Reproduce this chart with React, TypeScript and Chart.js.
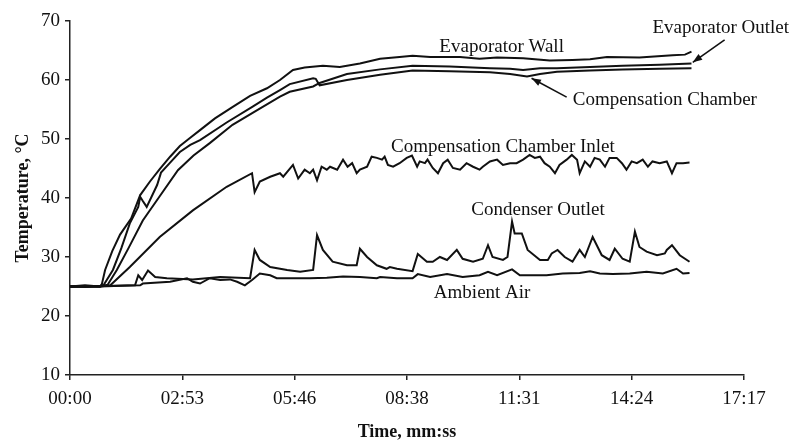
import React, { useEffect, useRef } from 'react';
import { Chart, registerables } from 'chart.js';

Chart.register(...registerables);

// ---- axes ----
const X_TICK_STEP = 172.8; // seconds (0.002 day)
const X_TICK_LABELS = ['00:00', '02:53', '05:46', '08:38', '11:31', '14:24', '17:17'];
const Y_MIN = 10;
const Y_MAX = 70;
const Y_STEP = 10;

// ---- series: [time (s), temperature (°C)] ----
const evaporatorWall: [number, number][] = [
  [0, 25.1], [23, 25.0], [46, 25.0], [49, 25.4], [54, 27.8], [65, 31.0], [77, 33.8], [94, 36.5],
  [108, 40.5], [123, 42.8], [138, 44.9], [154, 47.0], [169, 48.8], [185, 50.2], [200, 51.5],
  [223, 53.5], [251, 55.5], [277, 57.3], [303, 58.6], [323, 60.0], [343, 61.7], [361, 62.1],
  [389, 62.4], [415, 62.2], [446, 62.8], [477, 63.6], [507, 63.9], [527, 64.1], [554, 63.9],
  [600, 63.9], [630, 63.6], [657, 63.8], [697, 63.7], [738, 63.3], [773, 63.4], [800, 63.5],
  [826, 63.9], [876, 63.8], [927, 64.2], [946, 64.3], [956, 64.8],
];

const evaporatorOutlet: [number, number][] = [
  [0, 24.9], [23, 25.1], [46, 25.0], [58, 25.3], [72, 27.8], [90, 31.5], [112, 36.2], [138, 40.3],
  [166, 44.7], [190, 47.2], [215, 49.3], [250, 52.4], [288, 54.9], [323, 57.2], [338, 58.0],
  [374, 58.9], [384, 59.5], [426, 61.0], [477, 61.8], [527, 62.4], [584, 62.3], [646, 62.0],
  [677, 61.9], [697, 61.7], [723, 62.0], [749, 62.0], [800, 62.2], [850, 62.4], [907, 62.6],
  [956, 62.8],
];

const compensationChamber: [number, number][] = [
  [0, 25.0], [23, 24.9], [46, 25.0], [52, 25.3], [66, 27.8], [79, 31.5], [92, 35.7], [105, 38.5],
  [108, 40.2], [112, 39.5], [118, 38.5], [134, 42.2], [140, 44.3], [154, 46.0], [169, 47.8],
  [185, 49.0], [200, 49.8], [241, 52.8], [281, 55.5], [303, 57.0], [323, 58.3], [338, 59.3],
  [374, 60.3], [378, 60.2], [384, 59.1], [426, 60.0], [477, 60.9], [527, 61.6], [584, 61.5],
  [646, 61.3], [677, 61.0], [703, 60.6], [723, 61.0], [749, 61.4], [800, 61.6], [850, 61.8],
  [907, 61.9], [956, 62.0],
];

const compensationChamberInlet: [number, number][] = [
  [0, 25.0], [23, 25.1], [46, 25.0], [62, 25.2], [92, 28.3], [138, 33.4], [189, 37.9], [241, 41.9],
  [280, 44.2], [284, 41.0], [292, 42.8], [308, 43.6], [323, 44.2], [328, 43.6], [343, 45.6],
  [351, 43.3], [361, 44.8], [369, 44.2], [374, 44.8], [380, 43.0], [387, 45.3], [395, 44.8],
  [400, 45.3], [411, 44.8], [420, 46.5], [427, 45.3], [434, 45.9], [441, 44.2], [446, 44.8],
  [457, 45.3], [464, 47.0], [472, 46.8], [480, 46.5], [484, 47.0], [489, 45.6], [497, 45.3],
  [507, 45.9], [518, 46.8], [526, 47.2], [534, 45.3], [538, 46.2], [546, 45.9], [550, 46.5],
  [558, 45.1], [566, 44.2], [574, 45.9], [581, 46.5], [589, 45.1], [600, 44.8], [610, 45.9],
  [620, 45.3], [630, 44.8], [635, 45.3], [646, 46.2], [657, 46.5], [666, 45.6], [677, 45.9],
  [687, 45.9], [697, 46.5], [707, 47.3], [715, 46.8], [723, 47.0], [730, 45.9], [738, 45.3],
  [746, 44.2], [753, 45.6], [764, 46.5], [772, 47.3], [780, 46.5], [784, 44.2], [792, 46.2],
  [800, 45.3], [807, 46.8], [815, 46.5], [823, 45.3], [830, 46.8], [841, 46.8], [849, 45.9],
  [856, 44.8], [864, 46.2], [872, 45.9], [881, 46.5], [889, 45.3], [896, 46.2], [907, 45.9],
  [918, 46.2], [926, 44.2], [933, 45.9], [943, 45.9], [953, 46.0],
];

const condenserOutlet: [number, number][] = [
  [0, 25.0], [23, 25.2], [46, 25.0], [100, 25.2], [105, 26.9], [111, 26.1], [120, 27.7],
  [131, 26.6], [149, 26.4], [189, 26.2], [231, 26.6], [277, 26.4], [284, 31.2], [292, 29.5],
  [308, 28.3], [334, 27.8], [354, 27.5], [374, 27.8], [380, 33.7], [389, 31.2], [404, 29.2],
  [426, 28.6], [441, 28.6], [446, 31.4], [457, 30.0], [472, 28.6], [487, 28.0], [492, 28.3],
  [503, 28.0], [527, 27.6], [535, 30.5], [549, 29.2], [558, 29.2], [569, 30.0], [580, 29.5],
  [595, 31.2], [604, 29.7], [620, 29.2], [635, 29.7], [643, 32.0], [650, 30.0], [666, 29.5],
  [673, 30.0], [680, 36.0], [684, 34.0], [695, 34.0], [704, 31.2], [723, 29.5], [735, 29.5],
  [741, 30.6], [750, 31.2], [761, 30.0], [773, 29.2], [784, 31.2], [792, 30.0], [804, 33.4],
  [818, 30.3], [830, 29.5], [838, 31.4], [850, 29.7], [861, 29.2], [869, 34.3], [876, 31.7],
  [887, 30.9], [903, 30.3], [915, 30.6], [918, 31.2], [926, 32.0], [938, 30.3], [953, 29.2],
];

const ambientAir: [number, number][] = [
  [0, 24.9], [23, 25.0], [46, 25.1], [108, 25.2], [112, 25.5], [154, 25.8], [180, 26.4],
  [189, 25.8], [200, 25.5], [215, 26.4], [231, 26.1], [246, 26.2], [257, 25.8], [269, 25.2],
  [280, 26.1], [292, 27.2], [308, 26.9], [318, 26.4], [343, 26.4], [369, 26.4], [395, 26.5],
  [420, 26.7], [446, 26.6], [472, 26.4], [477, 26.6], [503, 26.4], [527, 26.4], [535, 27.1],
  [554, 26.6], [580, 27.1], [604, 26.6], [630, 26.9], [643, 27.5], [657, 26.9], [680, 27.9],
  [692, 26.9], [707, 26.9], [733, 26.9], [758, 27.2], [784, 27.3], [800, 27.6], [815, 27.2],
  [835, 27.1], [861, 27.2], [887, 27.5], [912, 27.2], [933, 28.0], [943, 27.2], [953, 27.3],
];

// ---- annotations (data coordinates) ----
const LABELS = [
  { text: 'Evaporator Wall', t: 664, v: 65.6 },
  { text: 'Evaporator Outlet', t: 1001, v: 68.8 },
  { text: 'Compensation Chamber', t: 915, v: 56.6 },
  { text: 'Compensation Chamber Inlet', t: 666, v: 48.7 },
  { text: 'Condenser Outlet', t: 720, v: 37.9 },
  { text: 'Ambient Air', t: 634, v: 23.9 },
];
const ARROWS = [
  { from: [1007, 66.8], to: [958, 63.0] },
  { from: [764, 57.1], to: [710, 60.3] },
];

const FONT = '"Liberation Serif", "Times New Roman", serif';
const INK = '#111';

const annotationPlugin = {
  id: 'annotations',
  afterDatasetsDraw(chart: any) {
    const { ctx, scales } = chart;
    const xs = scales.x;
    const ys = scales.y;
    ctx.save();
    ctx.fillStyle = INK;
    ctx.strokeStyle = INK;
    ctx.font = `19px ${FONT}`;
    ctx.textAlign = 'center';
    ctx.textBaseline = 'middle';
    LABELS.forEach((l) => {
      ctx.fillText(l.text, xs.getPixelForValue(l.t), ys.getPixelForValue(l.v));
    });
    ctx.lineWidth = 1.6;
    ARROWS.forEach((a) => {
      const x1 = xs.getPixelForValue(a.from[0]);
      const y1 = ys.getPixelForValue(a.from[1]);
      const x2 = xs.getPixelForValue(a.to[0]);
      const y2 = ys.getPixelForValue(a.to[1]);
      ctx.beginPath();
      ctx.moveTo(x1, y1);
      ctx.lineTo(x2, y2);
      ctx.stroke();
      const ang = Math.atan2(y2 - y1, x2 - x1);
      const len = 10;
      const spread = 0.35;
      ctx.beginPath();
      ctx.moveTo(x2, y2);
      ctx.lineTo(x2 - len * Math.cos(ang - spread), y2 - len * Math.sin(ang - spread));
      ctx.lineTo(x2 - len * Math.cos(ang + spread), y2 - len * Math.sin(ang + spread));
      ctx.closePath();
      ctx.fill();
    });
    ctx.restore();
  },
};

const toPoints = (arr: [number, number][]) => arr.map(([x, y]) => ({ x, y }));

const SERIES = [
  { label: 'Evaporator Wall', data: evaporatorWall },
  { label: 'Evaporator Outlet', data: evaporatorOutlet },
  { label: 'Compensation Chamber', data: compensationChamber },
  { label: 'Compensation Chamber Inlet', data: compensationChamberInlet },
  { label: 'Condenser Outlet', data: condenserOutlet },
  { label: 'Ambient Air', data: ambientAir },
];

export default function App() {
  const ref = useRef<HTMLCanvasElement>(null);

  useEffect(() => {
    document.body.style.margin = '0';
    const chart = new Chart(ref.current as HTMLCanvasElement, {
      type: 'line',
      data: {
        datasets: SERIES.map((s) => ({
          label: s.label,
          data: toPoints(s.data),
          borderColor: INK,
          borderWidth: 2,
          pointRadius: 0,
          tension: 0,
          fill: false,
        })),
      },
      options: {
        responsive: false,
        animation: false,
        devicePixelRatio: 1,
        layout: { padding: { top: 21, right: 50, left: 0, bottom: 0 } },
        plugins: { legend: { display: false }, tooltip: { enabled: false } },
        scales: {
          x: {
            type: 'linear',
            min: 0,
            max: X_TICK_STEP * (X_TICK_LABELS.length - 1),
            afterBuildTicks: (scale: any) => {
              scale.ticks = X_TICK_LABELS.map((_, i) => ({ value: i * X_TICK_STEP }));
            },
            afterFit: (scale: any) => {
              scale.height = 69;
            },
            ticks: {
              autoSkip: false,
              maxRotation: 0,
              padding: 8,
              color: INK,
              font: { family: FONT, size: 19 },
              callback: (_v: any, i: number) => X_TICK_LABELS[i],
            },
            grid: { drawOnChartArea: false, drawTicks: true, tickLength: 5, color: '#222', lineWidth: 1.5 },
            border: { display: true, color: '#222', width: 1.5 },
            title: {
              display: true,
              text: 'Time, mm:ss',
              color: INK,
              font: { family: FONT, size: 18, weight: 'bold' },
              padding: { top: 0, bottom: 1 },
            },
          },
          y: {
            type: 'linear',
            min: Y_MIN,
            max: Y_MAX,
            afterFit: (scale: any) => {
              scale.width = 70;
            },
            ticks: {
              stepSize: Y_STEP,
              padding: 5,
              color: INK,
              font: { family: FONT, size: 19 },
            },
            grid: { drawOnChartArea: false, drawTicks: true, tickLength: 5, color: '#222', lineWidth: 1.5 },
            border: { display: true, color: '#222', width: 1.5 },
            title: {
              display: true,
              text: 'Temperature, °C',
              color: INK,
              font: { family: FONT, size: 18, weight: 'bold' },
              padding: { top: 13, bottom: 0 },
            },
          },
        },
      },
      plugins: [annotationPlugin],
    } as any);
    return () => chart.destroy();
  }, []);

  return (
    <div style={{ width: 794, height: 444, background: '#fff' }}>
      <canvas ref={ref} width={794} height={444} style={{ display: 'block' }} />
    </div>
  );
}
